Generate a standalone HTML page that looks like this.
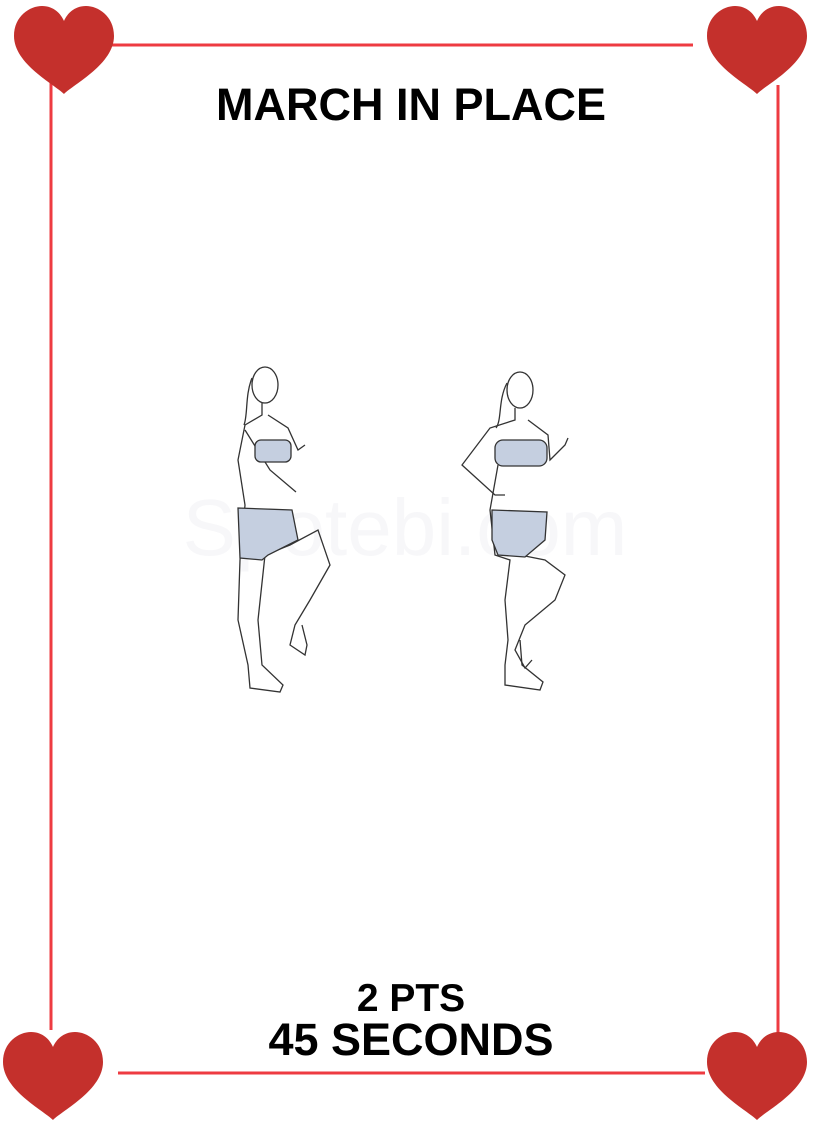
<!DOCTYPE html>
<html><head><meta charset="utf-8"><style>
html,body{margin:0;padding:0;background:#fff;}
body{width:822px;height:1122px;position:relative;overflow:hidden;font-family:"Liberation Sans",sans-serif;}
.t{position:absolute;left:0;width:822px;text-align:center;font-weight:bold;color:#000;}
</style></head><body>
<svg width="822" height="1122" style="position:absolute;left:0;top:0">
<defs><path id="h" d="M0,38 C-10,28 -50,8 -50,-20 C-50,-40 -34,-50 -22,-50 C-10,-50 -3,-42 0,-35 C3,-42 10,-50 22,-50 C34,-50 50,-40 50,-20 C50,8 10,28 0,38 Z" fill="#c4302c"/></defs>
<g stroke="#ee3b41" stroke-width="3">
<line x1="100" y1="45" x2="693" y2="45"/>
<line x1="51" y1="80" x2="51" y2="1030"/>
<line x1="778" y1="85" x2="778" y2="1035"/>
<line x1="118" y1="1073" x2="705" y2="1073"/>
</g>
<use href="#h" x="64" y="56"/>
<use href="#h" x="757" y="56"/>
<use href="#h" x="53" y="1082"/>
<use href="#h" x="757" y="1082"/>
<text x="405" y="555" text-anchor="middle" font-family="Liberation Sans,sans-serif" font-size="80" fill="#f7f7f9">Spotebi.com</text>
<g fill="none" stroke="#333" stroke-width="1.3">
<ellipse cx="265" cy="385" rx="13" ry="18" fill="#fff"/>
<path d="M252,378 C245,395 248,415 244,425"/>
<path d="M262,403 L262,415 L245,425 L238,460 L245,505 L240,560 L238,620 L248,665 L250,688 L280,692 L283,685 L262,665 L258,620 L265,555"/>
<path d="M268,415 L288,428 L298,450 L305,445"/>
<path d="M245,430 L270,470 L296,492"/>
<path d="M265,555 L290,545 L318,530 L330,565 L310,600 L295,625 L290,645 L305,655 L307,645 L302,625"/>
<rect x="255" y="440" width="36" height="22" rx="6" fill="#c5cfe0"/>
<path d="M238,508 L292,510 L298,540 L268,555 L262,560 L240,558 Z" fill="#c5cfe0"/>
</g>
<g fill="none" stroke="#333" stroke-width="1.3">
<ellipse cx="520" cy="390" rx="13" ry="18" fill="#fff"/>
<path d="M507,383 C498,400 502,420 496,428"/>
<path d="M515,408 L515,420 L490,428 L462,465 L495,495 L505,495"/>
<path d="M528,420 L548,435 L550,460 L565,445 L568,438"/>
<path d="M498,465 L490,510 L495,555 L510,560 L505,600 L508,640 L505,665 L505,685 L540,690 L543,682 L522,665 L520,640"/>
<path d="M520,555 L545,560 L565,575 L555,600 L525,625 L515,650 L525,668 L532,660"/>
<rect x="495" y="440" width="52" height="26" rx="8" fill="#c5cfe0"/>
<path d="M492,510 L547,512 L545,540 L525,557 L498,555 L492,540 Z" fill="#c5cfe0"/>
</g>
</svg>
<div class="t" style="top:79px;font-size:45px">MARCH IN PLACE</div>
<div class="t" style="top:979px;font-size:39px;line-height:40px">2 PTS</div>
<div class="t" style="top:1017px;font-size:45px;line-height:46px">45 SECONDS</div>
</body></html>
